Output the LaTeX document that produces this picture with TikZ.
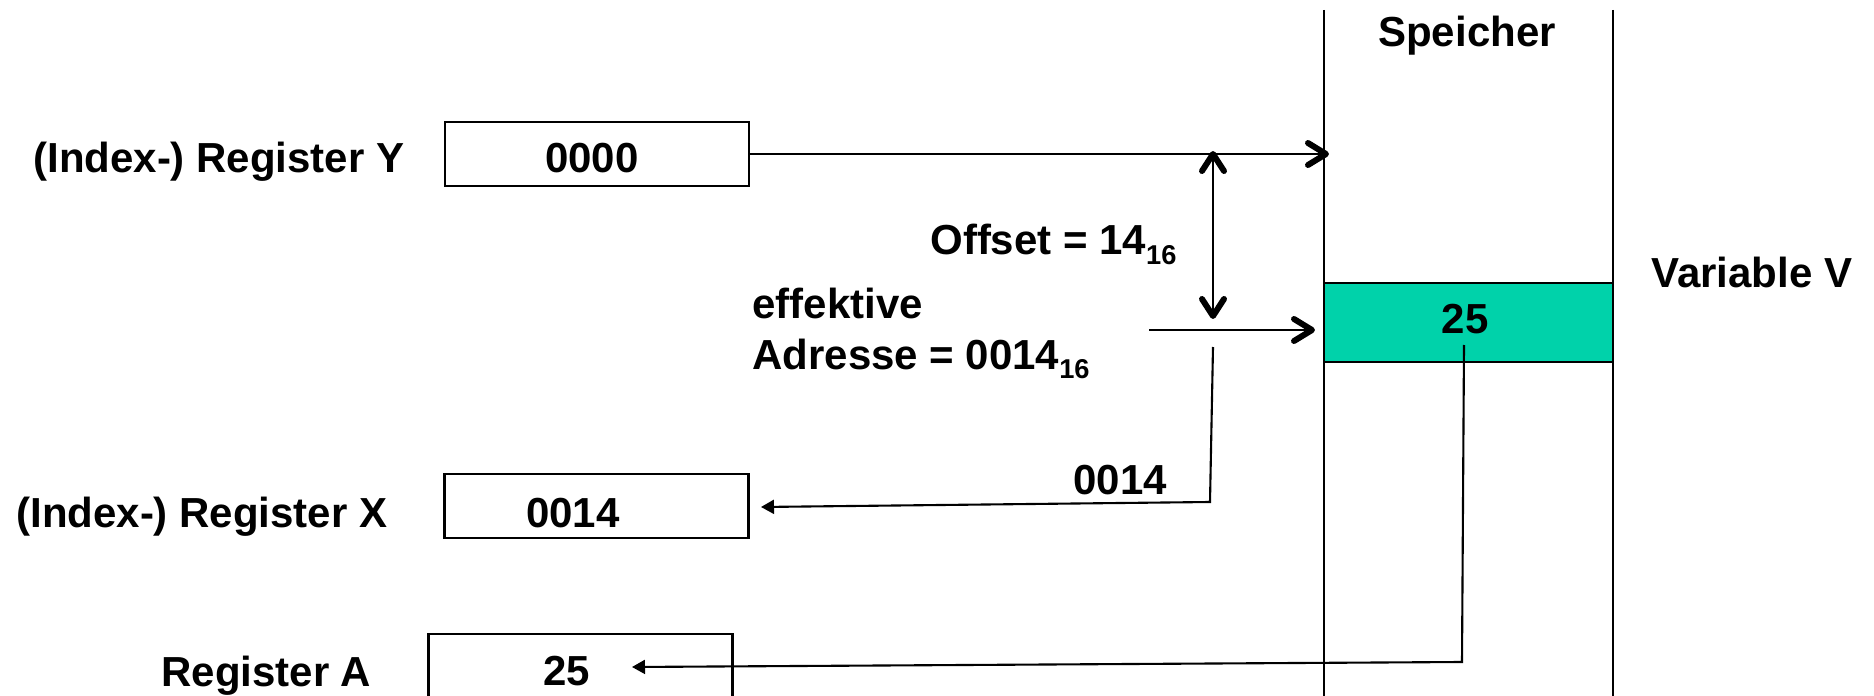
\documentclass[tikz,border=0pt]{standalone}
\usepackage{fontspec}
\setmainfont{Liberation Sans}
\usetikzlibrary{arrows.meta,calc}
\definecolor{vargreen}{RGB}{0,210,170}
\newcommand\mysub[1]{\raisebox{-0.22em}{\fontsize{15.5}{15.5}\selectfont #1}}
\begin{document}
\begin{tikzpicture}[x=0.02cm,y=-0.02cm,
  lbl/.style={inner sep=0pt, anchor=base west, font=\fontsize{23.9}{28}\selectfont\bfseries},
  val/.style={inner sep=0pt, anchor=base, font=\fontsize{23.9}{28}\selectfont\bfseries},
  regbox/.style={draw, line width=1.6pt, minimum width=6.08cm, minimum height=1.28cm, inner sep=0pt},
  memline/.style={line width=1.1pt},
  conn/.style={line width=1.2pt},
  barbhead/.style={line width=3.4pt, line cap=round, line join=round},
  triend/.style={-{Triangle[length=0.26cm,width=0.28cm]}}
]
\clip (0,0) rectangle (1874,696);

% memory column
\coordinate (mTL) at (1324,10);
\coordinate (mBL) at (1324,700);
\coordinate (mTR) at (1613,10);
\coordinate (mBR) at (1613,700);
\draw[memline] (mTL) -- (mBL);
\draw[memline] (mTR) -- (mBR);
\node[draw, fill=vargreen, line width=1.3pt, minimum width=5.78cm, minimum height=1.58cm, inner sep=0pt] (var) at (1468.5,322.5) {};
\node[val] (varval) at (1465,333) {25};
\node[val] (speicher) at (1467,47) {Speicher};
\node[lbl] (varname) at (1651,287) {Variable V};

% registers
\node[regbox] (Ybox) at (597,154) {};
\node[val] (Yval) at (592,173) {0000};
\node[lbl] (Ylbl) at (33,173) {(Index-) Register Y};

\node[regbox] (Xbox) at (596.5,506) {};
\node[val] (Xval) at (573,527) {0014};
\node[lbl] (Xlbl) at (16,527) {(Index-) Register X};

\node[regbox, minimum height=2.24cm] (Abox) at (580.5,690) {};
\node[val] (Aval) at (567,685) {25};
\node[lbl] (Albl) at (161,686) {Register A};

% labels
\node[lbl] (offset) at (930,255) {Offset = 14\mysub{16}};
\node[lbl] (eff1) at (752,318) {effektive};
\node[lbl] (eff2) at (752,369) {Adresse = 0014\mysub{16}};
\node[lbl] (xlab) at (1073,494) {0014};

% connectors with open barb heads
\coordinate (memY) at (1326,154);
\draw[conn] (Ybox.east) -- (memY);
\draw[barbhead] ($(memY)+(-18,-11)$) -- (memY) -- ($(memY)+(-18,11)$);

\coordinate (offTop) at (1213,154);
\coordinate (offBot) at (1213,316);
\draw[conn] (offTop) -- (offBot);
\draw[barbhead] ($(offTop)+(-11,17)$) -- (offTop) -- ($(offTop)+(11,17)$);
\draw[barbhead] ($(offBot)+(-11,-17)$) -- (offBot) -- ($(offBot)+(11,-17)$);

\coordinate (effStart) at (1149,330);
\coordinate (effEnd) at (1312,330);
\draw[conn] (effStart) -- (effEnd);
\draw[barbhead] ($(effEnd)+(-18,-11)$) -- (effEnd) -- ($(effEnd)+(-18,11)$);

% connectors with filled heads
\coordinate (xStart) at (1213,347);
\coordinate (xCorner) at (1210,502);
\coordinate (xTip) at (761,507);
\draw[conn,triend] (xStart) -- (xCorner) -- (xTip);
\coordinate (aStart) at (1464,345);
\coordinate (aCorner) at (1462,662);
\coordinate (aTip) at (632,667);
\draw[conn,triend] (aStart) -- (aCorner) -- (aTip);
\end{tikzpicture}
\end{document}
